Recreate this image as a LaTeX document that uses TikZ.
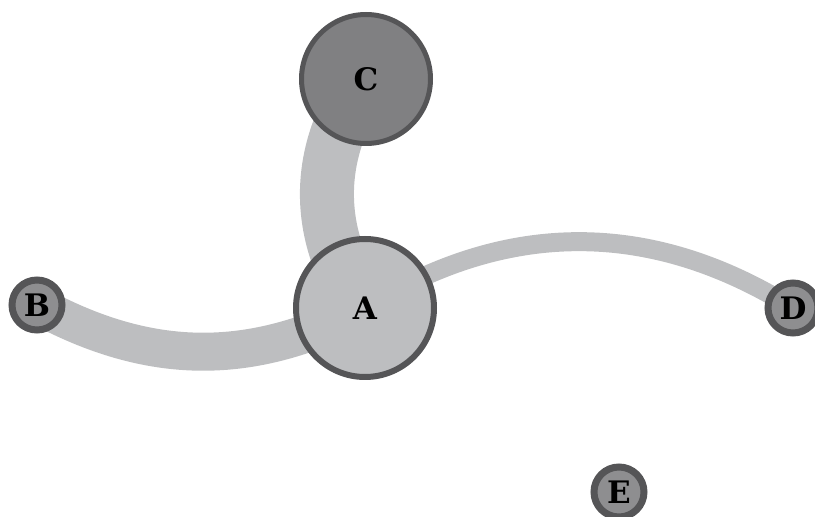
\documentclass[tikz,border=0pt]{standalone}
\usepackage{fontspec}
\setmainfont{DejaVu Serif}
\usepackage{tikz}
\usetikzlibrary{backgrounds}
\definecolor{rim}{RGB}{85, 85, 87}
\definecolor{link}{RGB}{189, 190, 192}
\definecolor{hub}{RGB}{189, 190, 192}
\definecolor{mid}{RGB}{128, 128, 130}
\definecolor{leaf}{RGB}{142, 142, 144}

\begin{document}
\begin{tikzpicture}[x=1pt, y=1pt,
    vertex/.style={circle, draw=rim, inner sep=0pt, text=black,
      font=\fontsize{31}{31}\selectfont\bfseries},
    linkline/.style={draw=link, line cap=butt}]

  \useasboundingbox (0, 0) rectangle (815, 517);

  \node[vertex, fill=hub, line width=6pt, minimum size=138pt] (A) at (365, 209) {A};
  \node[vertex, fill=mid, line width=5pt, minimum size=129pt] (C) at (366, 438) {C};
  \foreach \name/\x/\y in {B/37/212, D/793/209, E/619/25} {
    \node[vertex, fill=leaf, line width=7pt, minimum size=50pt] (\name) at (\x, \y) {\name};
  }

  \begin{scope}[on background layer]
    \draw[linkline, line width=54pt] (C.center) to[bend right=35] (A.center);
    \draw[linkline, line width=38pt] (A.center) to[bend left=28] (B.center);
    \draw[linkline, line width=19pt] (A.center) to[bend left=32] (D.center);
  \end{scope}

\end{tikzpicture}
\end{document}
